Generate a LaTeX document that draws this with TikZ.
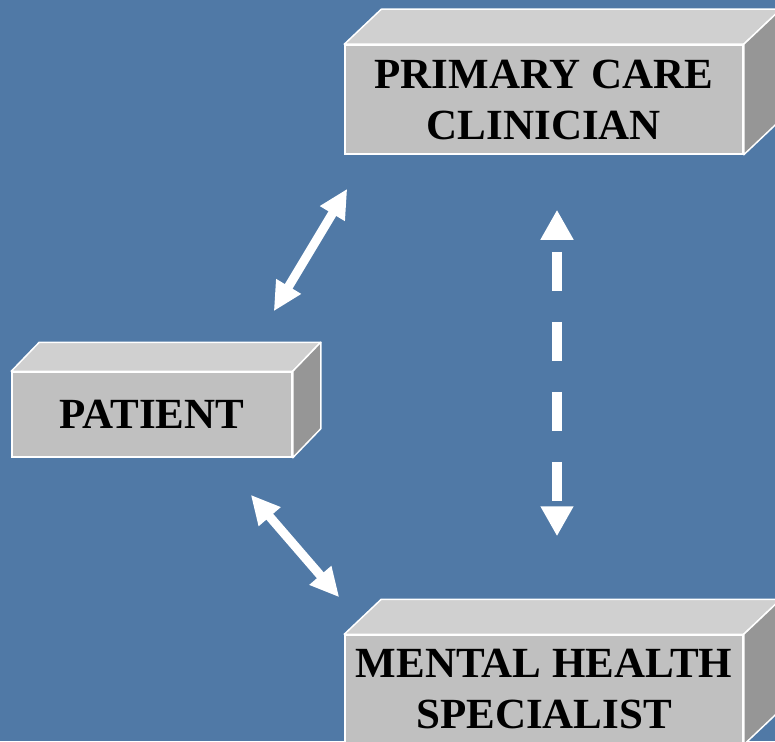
\documentclass[tikz,border=0pt]{standalone}
\usepackage{fontspec}
\setmainfont{Liberation Serif}
\usepackage{tikz}
\usetikzlibrary{calc,arrows.meta}

\definecolor{bgblue}{RGB}{80,121,166}
\definecolor{frontgray}{RGB}{192,192,192}
\definecolor{topgray}{RGB}{208,208,208}
\definecolor{sidegray}{RGB}{150,150,150}

% top and right faces of a box node: name, depth x, depth y
\newcommand{\boxsides}[3]{%
  \filldraw[topside] (#1.north west) -- ++(#2,-#3) -- ($(#1.north east)+(#2,-#3)$) -- (#1.north east) -- cycle;
  \filldraw[rightside] (#1.north east) -- ($(#1.north east)+(#2,-#3)$) -- ($(#1.south east)+(#2,-#3)$) -- (#1.south east) -- cycle;
}

\begin{document}
\begin{tikzpicture}[x=1pt,y=-1pt,
    frontbox/.style={rectangle, fill=frontgray, draw=white, line width=1.5pt, align=center, inner sep=0pt,
      font=\fontsize{43}{51}\selectfont\bfseries},
    topside/.style={fill=topgray, draw=white, line width=1.5pt, line join=round},
    rightside/.style={fill=sidegray, draw=white, line width=1.5pt, line join=round},
    linkarrow/.style={white, line width=9pt, {Triangle[length=29pt,width=27pt]}-{Triangle[length=29pt,width=27pt]}},
    dasharrow/.style={white, line width=10pt, dash pattern=on 39pt off 31pt, dash phase=56pt,
      {Triangle[length=30pt,width=31pt]}-{Triangle[length=30pt,width=31pt]}}]
    \useasboundingbox (0,0) rectangle (775,741);
    \clip (0,0) rectangle (775,741);
    \fill[bgblue] (0,0) rectangle (775,741);

    % Nodes
    \node[frontbox, minimum width=398pt, minimum height=109pt] (pcc) at (544,99.5) {PRIMARY CARE\\CLINICIAN};
    \boxsides{pcc}{37}{35}
    \node[frontbox, minimum width=280pt, minimum height=85pt] (pat) at (152,414.5) {PATIENT};
    \boxsides{pat}{28}{29}
    \node[frontbox, minimum width=398pt, minimum height=109pt] (mhs) at (544,689.5) {MENTAL HEALTH\\SPECIALIST};
    \boxsides{mhs}{37}{35}

    % Arrow ends
    \coordinate (patup) at ($(pat.north east)+(-19,-60)$);
    \coordinate (pccdown) at ($(pcc.south west)+(3,34)$);
    \coordinate (patdown) at ($(pat.south east)+(-42,37)$);
    \coordinate (mhsup) at ($(mhs.north west)+(-5,-37)$);
    \coordinate (pccdash) at ($(pcc.south)+(13,55)$);
    \coordinate (mhsdash) at ($(mhs.north)+(13,-98)$);

    % Edges
    \draw[linkarrow] (patup) -- (pccdown);
    \draw[linkarrow] (patdown) -- (mhsup);
    \draw[dasharrow] (pccdash) -- (mhsdash);
\end{tikzpicture}
\end{document}
